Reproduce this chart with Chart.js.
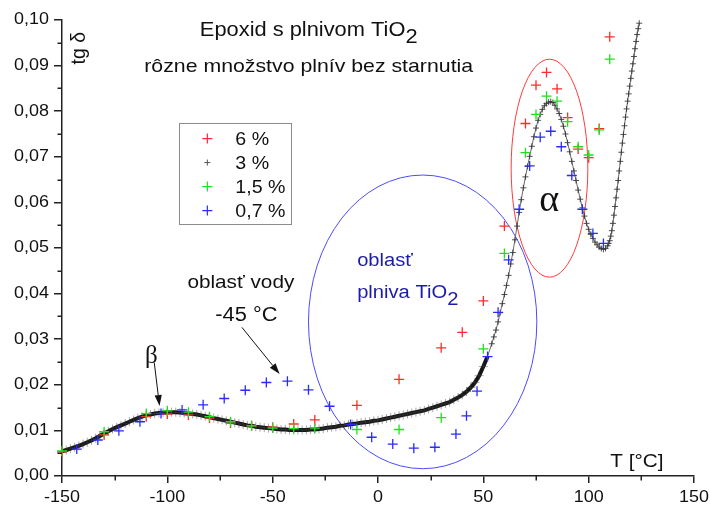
<!DOCTYPE html>
<html>
<head>
<meta charset="utf-8">
<script src="https://cdn.jsdelivr.net/npm/chart.js@4.4.1/dist/chart.umd.min.js"></script>
<style>
  html, body { margin: 0; padding: 0; background: #fff; }
  #wrap { width: 710px; height: 506px; }
</style>
</head>
<body>
<div id="wrap"><canvas id="tgd" width="710" height="506"></canvas></div>
<script>
// tg delta vs temperature, epoxy with TiO2 filler
const seriesLabels = ['6 %', '3 %', '1,5 %', '0,7 %'];
const seriesColors = ['#ff2b2b', '#4a4a4a', '#1fe01f', '#2b2bff'];

// 3 % filler: dense measurement
const temp3 = [
  -150,-148,-146,-144,-142,-140,-138,-136,-134,-132,-130,-128,-126,-124,-122,-120,-118,-116,-114,-112,
  -110,-108,-106,-104,-102,-100,-98,-96,-94,-92,-90,-88,-86,-84,-82,-80,-78,-76,-74,-72,
  -70,-68,-66,-64,-62,-60,-58,-56,-54,-52,-50,-48,-46,-44,-42,-40,-38,-36,-34,-32,
  -30,-28,-26,-24,-22,-20,-18,-16,-14,-12,-10,-8,-6,-4,-2,0,2,4,6,8,
  10,12,14,16,18,20,22,24,26,28,30,32,34,36,38,40,42,44,46,48,
  50,52,54,55,56,57,58,59,60,61,62,63,64,65,66,67,68,69,70,71,
  72,73,74,75,76,77,78,79,80,81,82,83,84,85,86,87,88,89,90,91,
  92,93,94,95,96,97,98,99,100,101,102,103,104,105,106,107,108,109,109.5,110,
  110.5,111,111.5,112,112.5,113,113.5,114,114.5,115,115.5,116,116.5,117,117.5,118,118.5,119,119.5,120,
  120.5,121,121.5,122,122.5,123,123.5,124
];
const tgd3 = [
  0.0054,0.0057,0.0060,0.0063,0.0066,0.0070,0.0074,0.0078,0.0083,0.0088,0.0093,0.0098,0.0103,0.0107,0.0111,0.0115,0.0119,0.0123,0.0127,0.0130,
  0.0133,0.0135,0.0137,0.0138,0.0139,0.0140,0.0140,0.0140,0.0139,0.0138,0.0137,0.0136,0.0135,0.0133,0.0131,0.0129,0.0127,0.0125,0.0123,0.0121,
  0.0119,0.0117,0.0115,0.0113,0.0111,0.0110,0.0108,0.0107,0.0106,0.0105,0.0104,0.0103,0.0102,0.0102,0.0101,0.0101,0.0101,0.0101,0.0101,0.0102,
  0.0102,0.0103,0.0104,0.0106,0.0107,0.0108,0.0110,0.0111,0.0113,0.0114,0.0115,0.0117,0.0118,0.0119,0.0121,0.0122,0.0124,0.0126,0.0128,0.0130,
  0.0132,0.0134,0.0136,0.0138,0.0140,0.0142,0.0144,0.0147,0.0150,0.0153,0.0156,0.0159,0.0162,0.0167,0.0172,0.0178,0.0185,0.0194,0.0205,0.0220,
  0.0240,0.0262,0.0290,0.0305,0.0320,0.0338,0.0358,0.0378,0.0398,0.0418,0.0440,0.0465,0.0490,0.0518,0.0548,0.0578,0.0606,0.0632,0.0656,0.0679,
  0.0701,0.0723,0.0744,0.0763,0.0780,0.0793,0.0804,0.0812,0.0817,0.0820,0.0821,0.0819,0.0813,0.0805,0.0795,0.0782,0.0767,0.0750,0.0731,0.0711,
  0.0690,0.0669,0.0648,0.0627,0.0607,0.0588,0.0570,0.0554,0.0541,0.0530,0.0521,0.0513,0.0507,0.0502,0.0499,0.0497,0.0499,0.0505,0.0510,0.0516,
  0.0526,0.0538,0.0554,0.0572,0.0591,0.0610,0.0629,0.0648,0.0669,0.0690,0.0710,0.0730,0.0749,0.0768,0.0787,0.0805,0.0822,0.0838,0.0855,0.0872,
  0.0888,0.0904,0.0920,0.0937,0.0953,0.0968,0.0981,0.0993
];

// 6 % filler
const temp6 = [-150,-130,-110,-100,-90,-80,-70,-60,-50,-40,-30,-10,10,30,40,50,60,70,75,80,85,90,95,100,105,110];
const tgd6 = [0.0053,0.0090,0.0130,0.0136,0.0134,0.0127,0.0116,0.0110,0.0107,0.0114,0.0123,0.0155,0.0212,0.0281,0.0315,0.0384,0.0548,0.0773,0.0857,0.0885,0.0849,0.0786,0.0717,0.0698,0.0762,0.0963];

// 1,5 % filler
const temp15 = [-150,-130,-110,-100,-90,-80,-70,-60,-50,-40,-30,-10,10,30,50,60,70,75,80,85,90,95,100,105,110];
const tgd15 = [0.0055,0.0097,0.0137,0.0143,0.0140,0.0130,0.0119,0.0110,0.0105,0.0104,0.0105,0.0102,0.0102,0.0128,0.0279,0.0488,0.0709,0.0793,0.0833,0.0822,0.0777,0.0722,0.0704,0.0759,0.0914];

// 0,7 % filler
const temp07 = [-143,-133,-123,-113,-103,-93,-83,-73,-63,-53,-43,-33,-23,-13,-3,7,17,27,37,42,47,52,57,62,67,72,77,82,87,92,97,102,107];
const tgd07 = [0.0059,0.0079,0.0099,0.0119,0.0137,0.0145,0.0156,0.0170,0.0188,0.0205,0.0208,0.0189,0.0153,0.0113,0.0085,0.0070,0.0061,0.0063,0.0092,0.0132,0.0186,0.0262,0.0359,0.0474,0.0585,0.0680,0.0743,0.0756,0.0722,0.0659,0.0585,0.0532,0.0510];

const xRange = [-150, 150, 50];
const yRange = [0, 0.10, 0.01];

const SANS = '"Liberation Sans", Arial, sans-serif';
const SERIF = '"Liberation Serif", "Times New Roman", serif';
const SX = 1.12; // text in this figure is set a little wide

const pairs = (xs, ys) => xs.map((x, i) => ({ x, y: ys[i] }));

function drawText(ctx, str, px, py, o) {
  ctx.save();
  ctx.font = o.font;
  ctx.fillStyle = o.color || '#111';
  ctx.textBaseline = o.baseline || 'alphabetic';
  const sx = o.sx || SX;
  const w = ctx.measureText(str).width * sx;
  const sw = o.sub ? ctx.measureText(o.sub).width * sx : 0;
  let left = px;
  if (o.align === 'center') left = px - (w + sw) / 2;
  if (o.align === 'right') left = px - w - sw;
  ctx.translate(left, py);
  ctx.scale(sx, 1);
  ctx.textAlign = 'left';
  ctx.fillText(str, 0, 0);
  if (o.sub) ctx.fillText(o.sub, w / sx, o.subDrop || 7);
  ctx.restore();
}

function cross(ctx, x, y, r, color, lw) {
  ctx.save();
  ctx.strokeStyle = color;
  ctx.lineWidth = lw;
  ctx.beginPath();
  ctx.moveTo(x - r, y); ctx.lineTo(x + r, y);
  ctx.moveTo(x, y - r); ctx.lineTo(x, y + r);
  ctx.stroke();
  ctx.restore();
}

function arrow(ctx, x1, y1, x2, y2) {
  const ang = Math.atan2(y2 - y1, x2 - x1);
  const len = 11, half = 3.6;
  const bx = x2 - len * Math.cos(ang), by = y2 - len * Math.sin(ang);
  ctx.save();
  ctx.strokeStyle = '#111';
  ctx.fillStyle = '#111';
  ctx.lineWidth = 1;
  ctx.beginPath();
  ctx.moveTo(x1, y1); ctx.lineTo(bx, by);
  ctx.stroke();
  ctx.beginPath();
  ctx.moveTo(x2, y2);
  ctx.lineTo(bx + half * Math.sin(ang), by - half * Math.cos(ang));
  ctx.lineTo(bx - half * Math.sin(ang), by + half * Math.cos(ang));
  ctx.closePath();
  ctx.fill();
  ctx.restore();
}

// regions marked on the plot, in data units
const regions = [
  { cx: 21.2, cy: 0.0338, rx: 54.2, ry: 0.0322, color: '#4b4bff' },
  { cx: 81.4, cy: 0.0675, rx: 18.2, ry: 0.0239, color: '#ff3a3a' }
];

const regionPlugin = {
  id: 'regions',
  beforeDatasetsDraw(chart) {
    const { ctx, scales: { x, y } } = chart;
    regions.forEach(r => {
      const cx = x.getPixelForValue(r.cx), cy = y.getPixelForValue(r.cy);
      const rx = x.getPixelForValue(r.cx + r.rx) - cx;
      const ry = cy - y.getPixelForValue(r.cy + r.ry);
      ctx.save();
      ctx.strokeStyle = r.color;
      ctx.lineWidth = 1;
      ctx.beginPath();
      ctx.ellipse(cx, cy, rx, ry, 0, 0, Math.PI * 2);
      ctx.stroke();
      ctx.restore();
    });
  }
};

const decorPlugin = {
  id: 'decor',
  afterDraw(chart) {
    const { ctx, chartArea: a, scales: { x, y } } = chart;
    const P = (t, v) => [x.getPixelForValue(t), y.getPixelForValue(v)];

    // minor ticks
    ctx.save();
    ctx.strokeStyle = '#222';
    ctx.lineWidth = 1.5;
    ctx.beginPath();
    for (let t = xRange[0] + xRange[2] / 2; t < xRange[1]; t += xRange[2]) {
      const px = Math.round(x.getPixelForValue(t)) + 0.25;
      ctx.moveTo(px, a.bottom); ctx.lineTo(px, a.bottom + 4.5);
    }
    for (let v = yRange[0] + yRange[2] / 2; v < yRange[1]; v += yRange[2]) {
      const py = Math.round(y.getPixelForValue(v)) + 0.25;
      ctx.moveTo(a.left, py); ctx.lineTo(a.left - 4.5, py);
    }
    ctx.stroke();
    ctx.restore();

    // tick labels
    const tickFont = '16px ' + SANS;
    x.ticks.forEach(t => {
      drawText(ctx, String(t.value), x.getPixelForValue(t.value), a.bottom + 26, { font: tickFont, align: 'center' });
    });
    y.ticks.forEach(t => {
      drawText(ctx, t.value.toFixed(2).replace('.', ','), a.left - 13, y.getPixelForValue(t.value), { font: tickFont, align: 'right', baseline: 'middle' });
    });

    // axis titles
    let p = P(-141.4, 0.0938);
    ctx.save();
    ctx.translate(p[0], p[1]);
    ctx.rotate(-Math.PI / 2);
    ctx.font = '19.5px ' + SANS;
    ctx.fillStyle = '#111';
    ctx.textAlign = 'center';
    ctx.textBaseline = 'middle';
    ctx.fillText('tg δ', 0, 0);
    ctx.restore();
    p = P(110.3, 0.0020);
    drawText(ctx, 'T [°C]', p[0], p[1], { font: '18.5px ' + SANS });

    // heading
    p = P(-32.9, 0.0965);
    drawText(ctx, 'Epoxid s plnivom TiO', p[0], p[1], { font: '19.5px ' + SANS, align: 'center', sub: '2', subDrop: 7 });
    p = P(-32.9, 0.0887);
    drawText(ctx, 'rôzne množstvo plnív bez starnutia', p[0], p[1], { font: '19px ' + SANS, align: 'center' });

    // notes
    p = P(-107.6, 0.0248);
    drawText(ctx, 'β', p[0], p[1], { font: '25px ' + SERIF, align: 'center', sx: 1 });
    p = P(81.3, 0.0581);
    drawText(ctx, 'α', p[0], p[1], { font: '38px ' + SERIF, align: 'center', sx: 1 });
    p = P(-65.1, 0.0412);
    drawText(ctx, 'oblasť vody', p[0], p[1], { font: '18.5px ' + SANS, align: 'center' });
    p = P(-62.5, 0.0340);
    drawText(ctx, '-45 °C', p[0], p[1], { font: '19.5px ' + SANS, align: 'center' });
    p = P(-9.9, 0.0461);
    drawText(ctx, 'oblasť', p[0], p[1], { font: '18px ' + SANS, color: '#1c1ca8' });
    p = P(-9.9, 0.0390);
    drawText(ctx, 'plniva TiO', p[0], p[1], { font: '18px ' + SANS, color: '#1c1ca8', sub: '2', subDrop: 7 });

    let s = P(-106.2, 0.02485), e = P(-103.7, 0.01535);
    arrow(ctx, s[0], s[1], e[0], e[1]);
    s = P(-64.6, 0.0326); e = P(-46.7, 0.02237);
    arrow(ctx, s[0], s[1], e[0], e[1]);

    // legend box
    const tl = P(-94.3, 0.0774), br = P(-41.2, 0.0553);
    ctx.save();
    ctx.fillStyle = '#fff';
    ctx.strokeStyle = '#8c8c8c';
    ctx.lineWidth = 1;
    ctx.fillRect(tl[0], tl[1], br[0] - tl[0], br[1] - tl[1]);
    ctx.strokeRect(Math.round(tl[0]) + 0.5, Math.round(tl[1]) + 0.5, Math.round(br[0] - tl[0]), Math.round(br[1] - tl[1]));
    ctx.restore();
    seriesLabels.forEach((lab, i) => {
      const rowY = tl[1] + 15.5 + 24 * i;
      const small = i === 1;
      cross(ctx, tl[0] + 28, rowY, small ? 3 : 5, small ? '#555' : seriesColors[i], small ? 1 : 1.2);
      drawText(ctx, lab, tl[0] + 56, tl[1] + 22 + 24 * i, { font: '17.5px ' + SANS });
    });
  }
};

const pointSet = (label, xs, ys, color, order) => ({
  label,
  data: pairs(xs, ys),
  showLine: false,
  pointStyle: 'cross',
  pointRadius: 5,
  pointBorderWidth: 1.3,
  pointBorderColor: color,
  pointBackgroundColor: color,
  clip: 12,
  order
});

new Chart(document.getElementById('tgd'), {
  type: 'scatter',
  data: {
    datasets: [
      pointSet(seriesLabels[3], temp07, tgd07, seriesColors[3], 1),
      pointSet(seriesLabels[2], temp15, tgd15, seriesColors[2], 2),
      pointSet(seriesLabels[0], temp6, tgd6, seriesColors[0], 3),
      {
        label: seriesLabels[1],
        data: pairs(temp3, tgd3),
        showLine: true,
        borderColor: '#111',
        borderWidth: 4,
        segment: {
          borderWidth: c => (c.p0.parsed.x < 52 ? 4 : 1),
          borderColor: c => (c.p0.parsed.x < 52 ? '#141414' : '#6a6a6a')
        },
        pointStyle: 'cross',
        pointRadius: c => (c.raw && c.raw.x < 52 ? 4.5 : 3),
        pointBorderWidth: 1,
        pointBorderColor: c => (c.raw && c.raw.x < 52 ? 'rgba(60,60,60,0.45)' : 'rgba(50,50,50,0.85)'),
        clip: 12,
        order: 9
      }
    ]
  },
  options: {
    responsive: false,
    devicePixelRatio: 1,
    animation: false,
    events: [],
    layout: { padding: { left: 0, right: 16, top: 20, bottom: 0 } },
    plugins: { legend: { display: false }, tooltip: { enabled: false } },
    scales: {
      x: {
        type: 'linear',
        min: xRange[0], max: xRange[1],
        ticks: { stepSize: xRange[2], display: false },
        grid: { drawOnChartArea: false, drawTicks: true, tickLength: 7, color: '#222', lineWidth: 1.5 },
        border: { color: '#222', width: 1.5 },
        afterFit: s => { s.height = 30; }
      },
      y: {
        type: 'linear',
        min: yRange[0], max: yRange[1],
        ticks: { stepSize: yRange[2], display: false },
        grid: { drawOnChartArea: false, drawTicks: true, tickLength: 8, color: '#222', lineWidth: 1.5 },
        border: { color: '#222', width: 1.5 },
        afterFit: s => { s.width = 62; }
      }
    }
  },
  plugins: [regionPlugin, decorPlugin]
});
</script>
</body>
</html>
